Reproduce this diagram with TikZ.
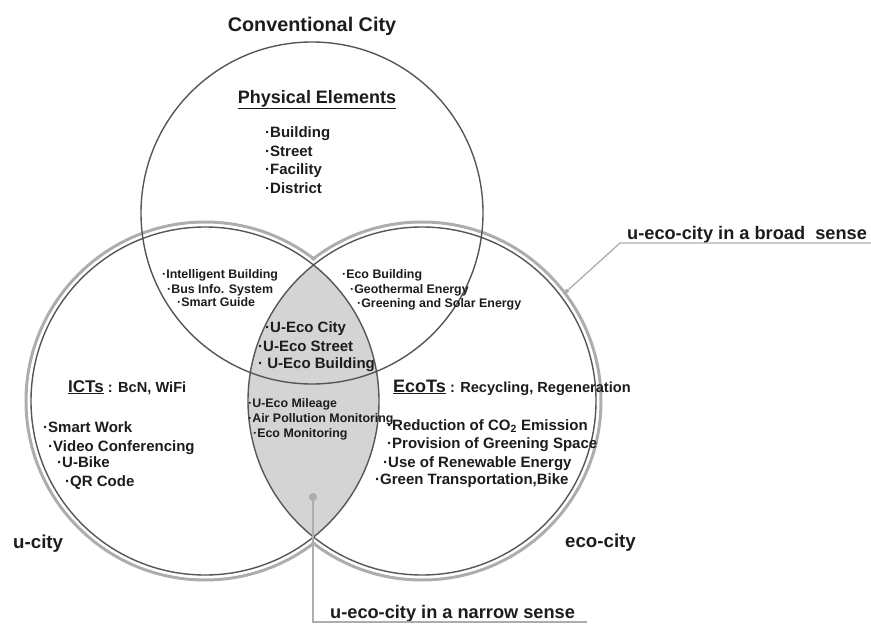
\documentclass[tikz,border=0pt]{standalone}
\usepackage{fontspec}
\setmainfont{Liberation Sans}
\usetikzlibrary{positioning}
\definecolor{rimgray}{HTML}{565656}
\definecolor{halogray}{HTML}{ADADAD}
\definecolor{lensgray}{HTML}{D4D4D4}
\definecolor{inkgray}{HTML}{1C1C1C}
\newcommand{\fs}[1]{\bfseries\fontsize{#1}{#1}\selectfont}
\tikzset{
  txt/.style={anchor=base west,inner sep=0pt,text=inkgray,font=\fs{15}},
  tiny/.style={txt,font=\fs{12.4}},
  head/.style={txt,font=\fs{18}},
  rim/.style={draw=rimgray,line width=1.4pt},
  halo/.style={draw=halogray,line width=3pt},
  callout/.style={draw=halogray,line width=1.3pt},
  dot/.style={circle,fill=halogray,inner sep=0pt,minimum size=#1}
}

\begin{document}
\begin{tikzpicture}[x=1pt,y=-1pt]
  \useasboundingbox (0,0) rectangle (871,626);
  \coordinate (conv) at (312,213);
  \coordinate (ucity) at (205,401);
  \coordinate (ecocity) at (422,401);

  % outer rim of u-city + eco-city
  \path[halo] (ucity) circle (179) (ecocity) circle (179);
  \fill[white] (ucity) circle (177) (ecocity) circle (177);
  \begin{scope}
    \clip (ucity) circle (174);
    \fill[lensgray] (ecocity) circle (174);
  \end{scope}
  \path[rim] (conv) circle (171) (ucity) circle (174) (ecocity) circle (174);

  % conventional city
  \node[head,anchor=base,font=\fs{19.8}] (convlabel) at (312,32) {Conventional City};
  \node[head,anchor=base] (phys) at (317,103) {\underline{Physical Elements}};
  \node[txt] (bld) at (265,138) {·Building};
  \node[txt] (str) at (265,157) {·Street};
  \node[txt] (fac) at (265,175) {·Facility};
  \node[txt] (dst) at (265,193) {·District};

  % overlaps
  \node[tiny] (intb) at (162,278) {·Intelligent Building};
  \node[tiny] (bus) at (167,293) {·Bus Info. System};
  \node[tiny] (sg) at (177,306) {·Smart Guide};
  \node[tiny] (ecob) at (342,278) {·Eco Building};
  \node[tiny] (geo) at (350,293) {·Geothermal Energy};
  \node[tiny] (grs) at (357,307) {·Greening and Solar Energy};
  \node[txt] (uec) at (265,332) {·U-Eco City};
  \node[txt] (ues) at (258,351) {·U-Eco Street};
  \node[txt] (ueb) at (258,368) {· U-Eco Building};
  \node[tiny] (uem) at (248,407) {·U-Eco Mileage};
  \node[tiny] (apm) at (248,422) {·Air Pollution Monitoring};
  \node[tiny] (ecm) at (253,437) {·Eco Monitoring};

  % u-city
  \node[txt] (icts) at (68,392) {{\fs{17}\underline{ICTs}} {\fs{14.6}: BcN, WiFi}};
  \node[txt] (sw) at (43,432) {·Smart Work};
  \node[txt] (vc) at (48,451) {·Video Conferencing};
  \node[txt] (ub) at (57,467) {·U-Bike};
  \node[txt] (qr) at (65,486) {·QR Code};
  \node[txt,font=\fs{18.7}] (ulabel) at (13,548) {u-city};

  % eco-city
  \node[txt] (ecots) at (393,392) {{\fs{18}\underline{EcoTs}} {\fs{14.6}: Recycling, Regeneration}};
  \node[txt] (rco) at (387,430) {·Reduction of CO\textsubscript{2} Emission};
  \node[txt] (pgs) at (387,448) {·Provision of Greening Space};
  \node[txt] (ure) at (383,467) {·Use of Renewable Energy};
  \node[txt] (gtb) at (375,484) {·Green Transportation,Bike};
  \node[txt,font=\fs{18.7}] (elabel) at (565,547) {eco-city};

  % callouts
  \node[dot=4pt] (broaddot) at (567,291) {};
  \coordinate (broadbend) at (620,243);
  \coordinate (broadend) at (871,243);
  \node[head,font=\fs{18.2}] (broad) at (627,239) {u-eco-city in a broad\ \ sense};
  \draw[callout] (broaddot) -- (broadbend) -- (broadend);

  \node[dot=8pt] (narrowdot) at (313,497) {};
  \coordinate (narrowbend) at (313,622);
  \coordinate (narrowend) at (587,622);
  \node[head,font=\fs{18.2}] (narrow) at (330,618) {u-eco-city in a narrow sense};
  \draw[callout] (narrowdot) -- (narrowbend) -- (narrowend);
\end{tikzpicture}
\end{document}
